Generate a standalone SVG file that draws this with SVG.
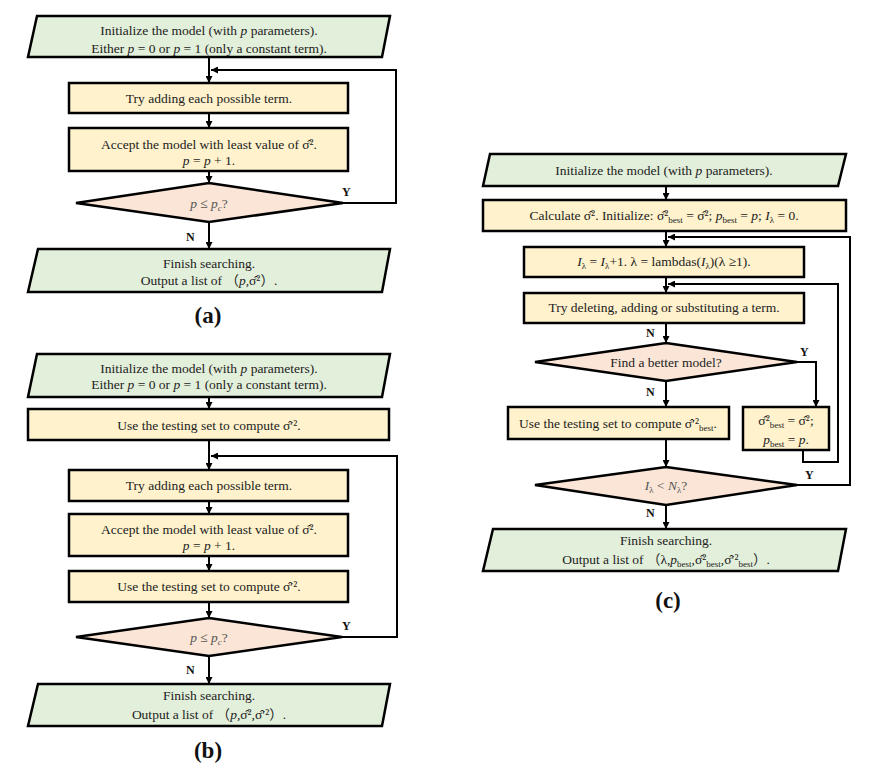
<svg xmlns="http://www.w3.org/2000/svg" width="886" height="780" viewBox="0 0 886 780">
<defs>
<marker id="ah" viewBox="0 0 10 10" refX="10" refY="5" markerWidth="7" markerHeight="7" markerUnits="userSpaceOnUse" orient="auto">
<path d="M0,0 L10,5 L0,10 z" fill="#000"/>
</marker>
<style>
.g{fill:#e2efda;stroke:#000;stroke-width:2.5}
.y{fill:#fff2cc;stroke:#000;stroke-width:2.5}
.d{fill:#fbe5d6;stroke:#000;stroke-width:2.5}
.t{font-family:"Liberation Serif","Noto Sans CJK SC",serif;font-size:13.5px;text-anchor:middle;fill:#222}
.q{fill:#555}
.i{font-style:italic}
.s{font-size:9px}
.l{font-family:"Liberation Serif",serif;font-size:12px;font-weight:bold;fill:#111}
.p{font-family:"Liberation Serif",serif;font-size:23px;font-weight:bold;text-anchor:middle;fill:#111}
.c{fill:none;stroke:#000;stroke-width:2}
.a{marker-end:url(#ah)}
</style>
</defs>
<rect width="886" height="780" fill="#fff"/>

<g id="connectors">
<!-- (a) -->
<path class="c a" d="M209,57 V83"/>
<path class="c a" d="M209,113 V128"/>
<path class="c a" d="M209,171 V183"/>
<path class="c a" d="M343,203 H396 V70 H211"/>
<path class="c a" d="M209,222 V249"/>
<!-- (b) -->
<path class="c a" d="M209,397 V409"/>
<path class="c a" d="M209,440 V470"/>
<path class="c a" d="M209,501 V514"/>
<path class="c a" d="M209,556 V571"/>
<path class="c a" d="M209,602 V618"/>
<path class="c a" d="M342,637 H397 V456 H211"/>
<path class="c a" d="M209,656 V684"/>
<!-- (c) -->
<path class="c a" d="M666,186 V200"/>
<path class="c a" d="M666,231 V247"/>
<path class="c a" d="M797,485 H850 V237 H668"/>
<path class="c a" d="M666,277 V293"/>
<path class="c a" d="M803,450 V462 H838 V284 H668"/>
<path class="c a" d="M666,323 V343"/>
<path class="c a" d="M797,362 H816 V407"/>
<path class="c a" d="M666,381 V407"/>
<path class="c a" d="M666,439 V467"/>
<path class="c a" d="M666,505 V529"/>
</g>

<g id="labels">
<text class="l" x="342" y="196">Y</text>
<text class="l" x="186" y="241">N</text>
<text class="l" x="342" y="630">Y</text>
<text class="l" x="186" y="674">N</text>
<text class="l" x="646" y="337">N</text>
<text class="l" x="800" y="356">Y</text>
<text class="l" x="646" y="396">N</text>
<text class="l" x="805" y="479">Y</text>
<text class="l" x="646" y="517">N</text>
<text class="p" x="208" y="323">(a)</text>
<text class="p" x="208" y="758">(b)</text>
<text class="p" x="668" y="608">(c)</text>
</g>

<!-- Panel (a) -->
<g id="a_init">
<polygon class="g" points="37,16 390,16 382,57 28,57"/>
<text class="t" x="209" y="35">Initialize  the model (with <tspan class="i">p</tspan> parameters).</text>
<text class="t" x="209" y="52.5">Either <tspan class="i">p</tspan> = 0 or <tspan class="i">p</tspan> = 1 (only a constant term).</text>
</g>
<g id="a_try">
<rect class="y" x="69" y="83" width="279" height="30"/>
<text class="t" x="209" y="102.5">Try adding each possible term.</text>
</g>
<g id="a_accept">
<rect class="y" x="69" y="128" width="279" height="43"/>
<text class="t" x="209" y="149">Accept the model with least value of σ̂².</text>
<text class="t" x="209" y="165"><tspan class="i">p</tspan> = <tspan class="i">p</tspan> + 1.</text>
</g>
<g id="a_cond">
<polygon class="d" points="209,183 343,203 209,222 76,203"/>
<text class="t q" x="209" y="207.5"><tspan class="i">p</tspan> ≤ <tspan class="i">p<tspan class="s" dy="3">c</tspan></tspan><tspan dy="-3">?</tspan></text>
</g>
<g id="a_finish">
<polygon class="g" points="38,249 390,249 382,292 28,292"/>
<text class="t" x="209" y="267.5">Finish searching.</text>
<text class="t" x="209" y="285">Output a list of （<tspan class="i">p</tspan>,σ̂²）.</text>
</g>

<!-- Panel (b) -->
<g id="b_init">
<polygon class="g" points="37,354 390,354 382,397 28,397"/>
<text class="t" x="209" y="372.5">Initialize  the model (with <tspan class="i">p</tspan> parameters).</text>
<text class="t" x="209" y="389">Either <tspan class="i">p</tspan> = 0 or <tspan class="i">p</tspan> = 1 (only a constant term).</text>
</g>
<g id="b_test0">
<rect class="y" x="28" y="409" width="361" height="31"/>
<text class="t" x="209" y="429.5">Use the testing set to compute σ̂′².</text>
</g>
<g id="b_try">
<rect class="y" x="69" y="470" width="279" height="31"/>
<text class="t" x="209" y="490">Try adding each possible term.</text>
</g>
<g id="b_accept">
<rect class="y" x="69" y="514" width="279" height="42"/>
<text class="t" x="209" y="534">Accept the model with least value of σ̂².</text>
<text class="t" x="209" y="550"><tspan class="i">p</tspan> = <tspan class="i">p</tspan> + 1.</text>
</g>
<g id="b_test">
<rect class="y" x="69" y="571" width="279" height="31"/>
<text class="t" x="209" y="591">Use the testing set to compute σ̂′².</text>
</g>
<g id="b_cond">
<polygon class="d" points="209,618 342,637 209,656 76,637"/>
<text class="t q" x="209" y="641.5"><tspan class="i">p</tspan> ≤ <tspan class="i">p<tspan class="s" dy="3">c</tspan></tspan><tspan dy="-3">?</tspan></text>
</g>
<g id="b_finish">
<polygon class="g" points="38,684 390,684 382,726 28,726"/>
<text class="t" x="209" y="700">Finish searching.</text>
<text class="t" x="209" y="719">Output a list of （<tspan class="i">p</tspan>,σ̂²,σ̂′²）.</text>
</g>

<!-- Panel (c) -->
<g id="c_init">
<polygon class="g" points="490,154 846,154 838,186 483,186"/>
<text class="t" x="664" y="175">Initialize  the model (with <tspan class="i">p</tspan> parameters).</text>
</g>
<g id="c_calc">
<rect class="y" x="483" y="200" width="363" height="31"/>
<text class="t" x="664" y="220">Calculate σ̂². Initialize: σ̂²<tspan class="s" dy="3">best</tspan><tspan dy="-3"> = σ̂²;  </tspan><tspan class="i">p</tspan><tspan class="s" dy="3">best</tspan><tspan dy="-3"> = </tspan><tspan class="i">p</tspan>; <tspan class="i">I</tspan><tspan class="s" dy="3">λ</tspan><tspan dy="-3"> = 0.</tspan></text>
</g>
<g id="c_incr">
<rect class="y" x="524" y="247" width="280" height="30"/>
<text class="t" x="664" y="266"><tspan class="i">I</tspan><tspan class="s" dy="3">λ</tspan><tspan dy="-3"> = </tspan><tspan class="i">I</tspan><tspan class="s" dy="3">λ</tspan><tspan dy="-3">+1.  λ = lambdas(</tspan><tspan class="i">I</tspan><tspan class="s" dy="3">λ</tspan><tspan dy="-3">)(λ ≥1).</tspan></text>
</g>
<g id="c_try">
<rect class="y" x="524" y="293" width="280" height="30"/>
<text class="t" x="664" y="312">Try deleting, adding or substituting a term.</text>
</g>
<g id="c_better">
<polygon class="d" points="666,343 797,362 666,381 535,362"/>
<text class="t" x="666" y="366.5">Find a better model?</text>
</g>
<g id="c_test">
<rect class="y" x="508" y="407" width="221" height="32"/>
<text class="t" x="618" y="427.5">Use the testing set to compute σ̂′²<tspan class="s" dy="3">best</tspan><tspan dy="-3">.</tspan></text>
</g>
<g id="c_update">
<rect class="y" x="743" y="407" width="86" height="43"/>
<text class="t" x="786" y="425">σ̂²<tspan class="s" dy="3">best</tspan><tspan dy="-3"> = σ̂²;</tspan></text>
<text class="t" x="786" y="444"><tspan class="i">p</tspan><tspan class="s" dy="3">best</tspan><tspan dy="-3"> = </tspan><tspan class="i">p</tspan>.</text>
</g>
<g id="c_cond">
<polygon class="d" points="666,467 797,485 666,505 535,485"/>
<text class="t q" x="666" y="489.5"><tspan class="i">I</tspan><tspan class="s" dy="3">λ</tspan><tspan dy="-3"> &lt; </tspan><tspan class="i">N</tspan><tspan class="s" dy="3">λ</tspan><tspan dy="-3">?</tspan></text>
</g>
<g id="c_finish">
<polygon class="g" points="493,529 846,529 838,571 483,571"/>
<text class="t" x="666" y="544.5">Finish searching.</text>
<text class="t" x="666" y="564">Output a list of （λ,<tspan class="i">p</tspan><tspan class="s" dy="3">best</tspan><tspan dy="-3">,σ̂²</tspan><tspan class="s" dy="3">best</tspan><tspan dy="-3">,σ̂′²</tspan><tspan class="s" dy="3">best</tspan><tspan dy="-3">）.</tspan></text>
</g>
</svg>
